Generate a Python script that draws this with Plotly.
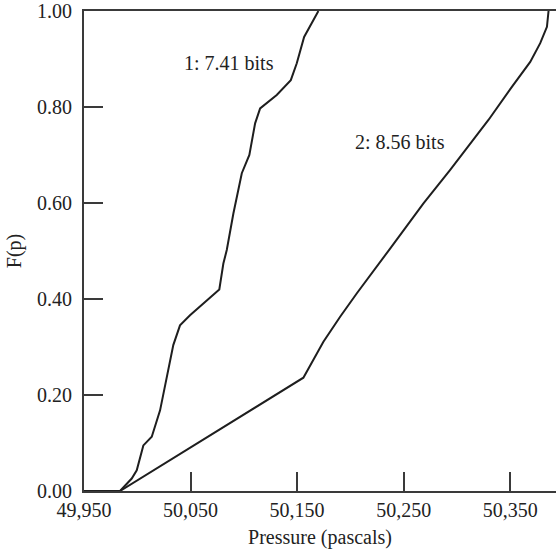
import plotly.graph_objects as go

# Curve 1: 7.41 bits
x1 = [49950, 49983.8, 49994.8, 49999.5, 50005.7, 50013.6, 50021.4, 50026.1, 50033.8,
      50040.1, 50049.5, 50077.0, 50080.8, 50084.0, 50090.2, 50098.1, 50105.2, 50110.6,
      50115.3, 50130.9, 50144.1, 50149.7, 50156.6, 50170.0]
y1 = [0.0, 0.0, 0.026, 0.043, 0.095, 0.113, 0.168, 0.217, 0.304,
      0.345, 0.366, 0.420, 0.474, 0.502, 0.578, 0.662, 0.700, 0.766,
      0.797, 0.825, 0.856, 0.891, 0.946, 1.0]

# Curve 2: 8.56 bits
x2 = [49950, 49983.8, 50155.9, 50165.3, 50174.7, 50190.4, 50206.1, 50237.3, 50268.6,
      50293.7, 50329.6, 50351.6, 50368.8, 50378.2, 50384.5, 50386.0]
y2 = [0.0, 0.0, 0.236, 0.272, 0.311, 0.363, 0.412, 0.505, 0.599,
      0.669, 0.773, 0.842, 0.894, 0.933, 0.967, 1.0]

x_ticks = [49950, 50050, 50150, 50250, 50350]
x_tick_labels = ["49,950", "50,050", "50,150", "50,250", "50,350"]
y_ticks = [0.0, 0.2, 0.4, 0.6, 0.8, 1.0]
y_tick_labels = ["0.00", "0.20", "0.40", "0.60", "0.80", "1.00"]

labels = ["1: 7.41 bits", "2: 8.56 bits"]
label_x = [50086, 50247]
label_y = [0.891, 0.727]

FONT = "Liberation Serif"
FS = 20
LINE = "#1e1e1e"
AXIS = "#3a3a3a"
TXT = "#222"

fig = go.Figure()
fig.add_trace(go.Scatter(x=x1, y=y1, mode="lines", line=dict(color=LINE, width=2),
                         showlegend=False, hoverinfo="skip"))
fig.add_trace(go.Scatter(x=x2, y=y2, mode="lines", line=dict(color=LINE, width=2),
                         showlegend=False, hoverinfo="skip"))

for t, xx, yy in zip(labels, label_x, label_y):
    fig.add_annotation(x=xx, y=yy, text=t, showarrow=False,
                       font=dict(family=FONT, size=FS, color=TXT))

fig.update_layout(
    width=556, height=554,
    margin=dict(l=84, r=0, t=11, b=63),
    paper_bgcolor="white", plot_bgcolor="white",
    font=dict(family=FONT, size=FS, color=TXT),
    xaxis=dict(
        range=[49950, 50393], tickmode="array", tickvals=x_ticks, ticktext=x_tick_labels,
        ticks="inside", ticklen=19, tickwidth=1.5, tickcolor=AXIS,
        showline=True, linecolor=AXIS, linewidth=2, mirror=True,
        showgrid=False, zeroline=False,
        title=dict(text="Pressure (pascals)", font=dict(family=FONT, size=FS), standoff=10),
        tickfont=dict(family=FONT, size=FS),
    ),
    yaxis=dict(
        range=[0, 1], tickmode="array", tickvals=y_ticks, ticktext=y_tick_labels,
        ticks="inside", ticklen=19, tickwidth=1.5, tickcolor=AXIS,
        showline=True, linecolor=AXIS, linewidth=2,
        showgrid=False, zeroline=False, ticklabelstandoff=6,
        title=dict(text="F(p)", font=dict(family=FONT, size=FS), standoff=10),
        tickfont=dict(family=FONT, size=FS),
    ),
)

fig.write_html("out.html", config={"displayModeBar": False},
               post_script="document.body.style.margin='0';")
